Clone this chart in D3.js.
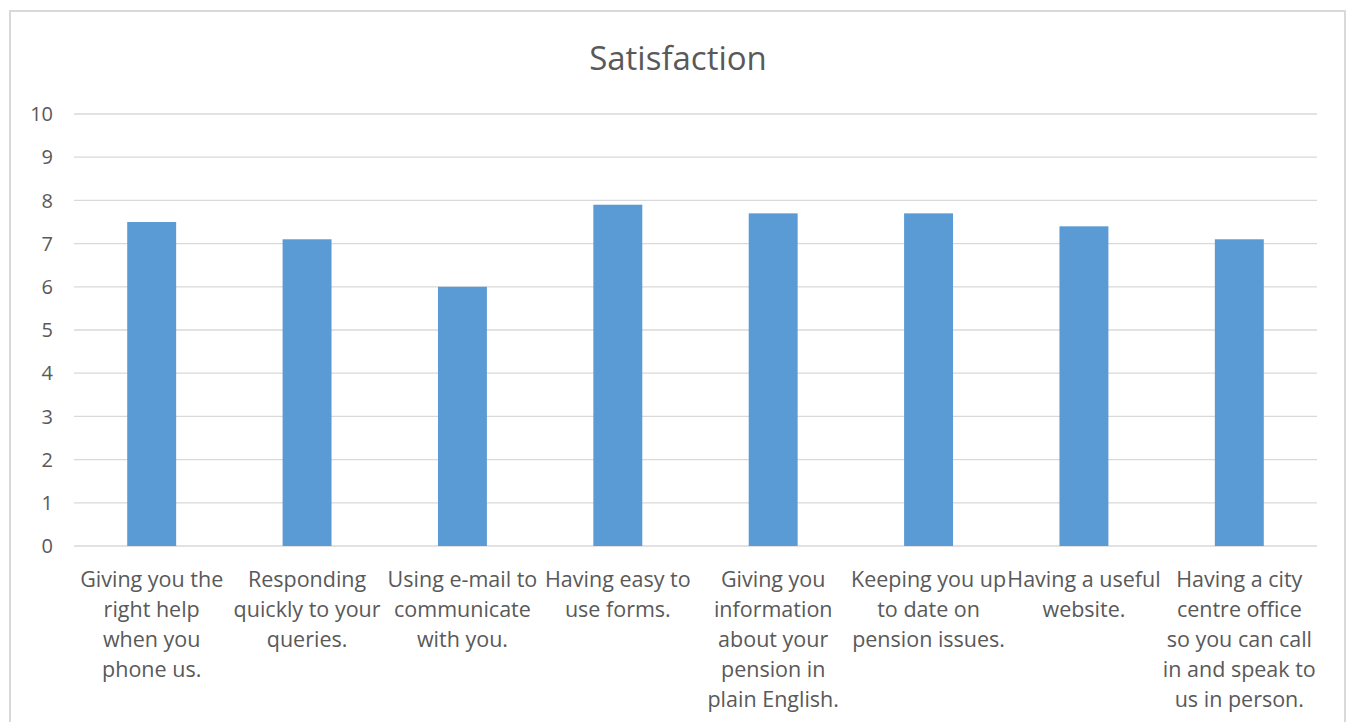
<!DOCTYPE html>
<html>
<head>
<meta charset="utf-8">
<script src="https://cdn.jsdelivr.net/npm/d3@7"></script>
<style>
  html, body { margin: 0; padding: 0; background: #fff; }
  svg { display: block; }
  text { font-family: "Open Sans", Lato, sans-serif; fill: #595959; }
</style>
</head>
<body>
<script>
// Survey satisfaction scores, one per service aspect
const categories = [
  ["Giving you the", "right help", "when you", "phone us."],
  ["Responding", "quickly to your", "queries."],
  ["Using e-mail to", "communicate", "with you."],
  ["Having easy to", "use forms."],
  ["Giving you", "information", "about your", "pension in", "plain English."],
  ["Keeping you up", "to date on", "pension issues."],
  ["Having a useful", "website."],
  ["Having a city", "centre office", "so you can call", "in and speak to", "us in person."]
];
const values = [7.5, 7.1, 6.0, 7.9, 7.7, 7.7, 7.4, 7.1];
const yTicks = [0, 1, 2, 3, 4, 5, 6, 7, 8, 9, 10];
const title = "Satisfaction";

const W = 1351, H = 722;
const plot = { left: 74, right: 1317, top: 114, bottom: 546 };

const svg = d3.select("body").append("svg")
  .attr("width", W).attr("height", H);

// chart frame
svg.append("rect")
  .attr("x", 10).attr("y", 11)
  .attr("width", 1335).attr("height", 730)
  .attr("fill", "#fff")
  .attr("stroke", "#d9d9d9").attr("stroke-width", 2);

const x = d3.scaleBand()
  .domain(d3.range(categories.length))
  .range([plot.left, plot.right])
  .padding(0);

const y = d3.scaleLinear()
  .domain([0, 10])
  .range([plot.bottom, plot.top]);

// horizontal gridlines
svg.append("g")
  .selectAll("line")
  .data(yTicks)
  .join("line")
  .attr("x1", plot.left).attr("x2", plot.right)
  .attr("y1", d => y(d)).attr("y2", d => y(d))
  .attr("stroke", "#d9d9d9").attr("stroke-width", 1.3);

// y-axis labels
svg.append("g")
  .selectAll("text")
  .data(yTicks)
  .join("text")
  .attr("x", 53)
  .attr("y", d => y(d))
  .attr("dy", "0.36em")
  .attr("text-anchor", "end")
  .attr("font-size", 20)
  .text(d => d);

// bars
const barW = x.bandwidth() * 0.315;
svg.append("g")
  .selectAll("rect")
  .data(values)
  .join("rect")
  .attr("x", (d, i) => x(i) + (x.bandwidth() - barW) / 2)
  .attr("y", d => y(d))
  .attr("width", barW)
  .attr("height", d => y(0) - y(d))
  .attr("fill", "#5b9bd5");

// category labels (wrapped)
const labels = svg.append("g")
  .selectAll("text")
  .data(categories)
  .join("text")
  .attr("text-anchor", "middle")
  .attr("font-size", 21.5)
  .attr("transform", (d, i) => `translate(${x(i) + x.bandwidth() / 2},0)`);

labels.selectAll("tspan")
  .data(d => d)
  .join("tspan")
  .attr("x", 0)
  .attr("y", (d, j) => 587 + j * 30)
  .text(d => d);

// title
svg.append("text")
  .attr("x", 678).attr("y", 70)
  .attr("text-anchor", "middle")
  .attr("font-size", 33)
  .text(title);
</script>
</body>
</html>
